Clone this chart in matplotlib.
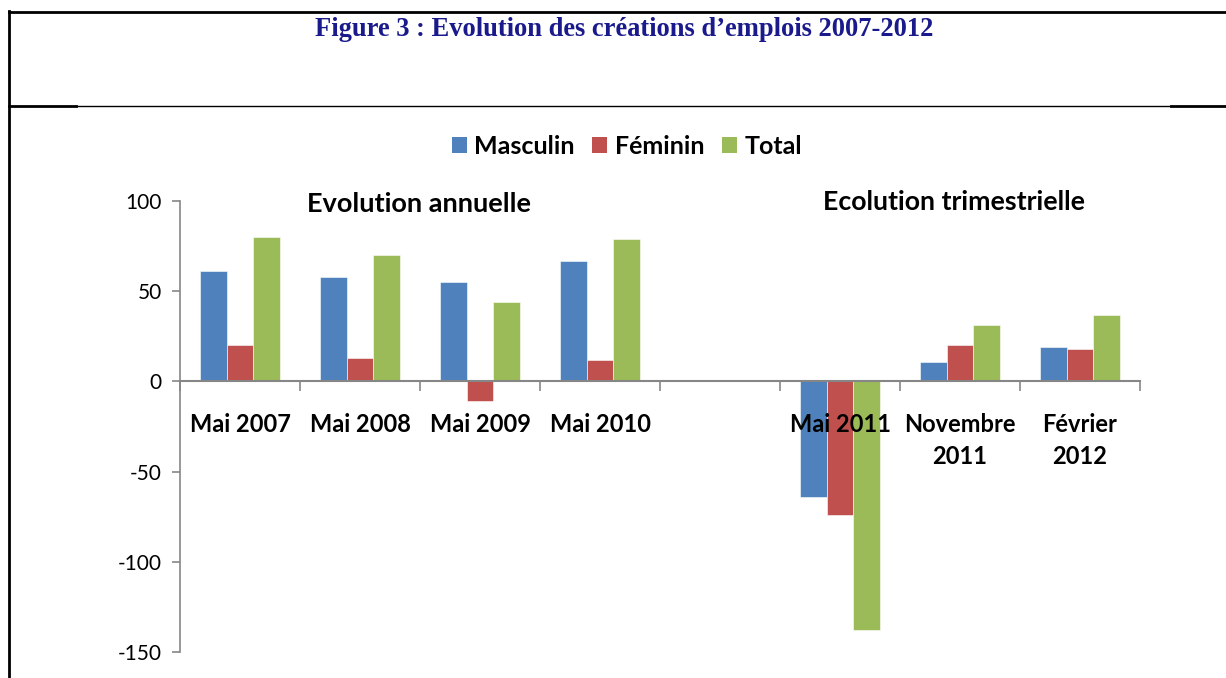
import matplotlib
matplotlib.use("Agg")
import matplotlib.pyplot as plt
from matplotlib.lines import Line2D
from matplotlib.patches import Patch
import numpy as np

categories = ["Mai 2007", "Mai 2008", "Mai 2009", "Mai 2010", "",
              "Mai 2011", "Novembre\n2011", "Février\n2012"]
masculin = [61, 58, 55, 67, np.nan, -64, 11, 19]
feminin = [20, 13, -11, 12, np.nan, -74, 20, 18]
total = [80, 70, 44, 79, np.nan, -138, 31, 37]
series_names = ["Masculin", "Féminin", "Total"]
colors = ["#4F81BD", "#C0504D", "#9BBB59"]
yticks = [100, 50, 0, -50, -100, -150]

W, H = 1226, 678
fig = plt.figure(figsize=(W / 100, H / 100), dpi=100)
ax = fig.add_axes([180 / W, 1 - 652 / H, (1140 - 180) / W, (652 - 201) / H])

x = np.arange(len(categories))
bw = 0.222
for i, (vals, c) in enumerate(zip([masculin, feminin, total], colors)):
    ax.bar(x + (i - 1) * bw, vals, width=bw, color=c, edgecolor="white",
           linewidth=0.4, zorder=2)

ax.set_xlim(-0.5, len(categories) - 0.5)
ax.set_ylim(-150, 100)
ax.set_yticks(yticks)
ax.set_yticklabels([str(v) for v in yticks], fontsize=15)
for t in ax.get_yticklabels():
    t.set_fontfamily(["Lato", "DejaVu Sans"])

axis_gray = "#868686"
for s in ["top", "right"]:
    ax.spines[s].set_visible(False)
ax.spines["left"].set_color(axis_gray)
ax.spines["bottom"].set_color(axis_gray)
ax.spines["left"].set_linewidth(1.2)
ax.spines["bottom"].set_linewidth(1.5)
ax.spines["bottom"].set_position(("data", 0))
ax.spines["bottom"].set_zorder(3)
ax.tick_params(axis="y", direction="out", length=6, color=axis_gray, width=1.2, pad=7)
ax.set_xticks(np.arange(-0.5, len(categories), 1.0))
ax.set_xticklabels([])
ax.tick_params(axis="x", direction="out", length=7, color=axis_gray, width=1.2)

for xi, lab in zip(x, categories):
    ax.text(xi, -17.5, lab, ha="center", va="top", fontsize=17, fontweight="bold",
            family=["Lato", "DejaVu Sans"], linespacing=1.5, zorder=5)

ax.text(1.49, 98.3, "Evolution annuelle", ha="center", va="center", fontsize=19.5,
        fontweight="bold", family=["Lato", "DejaVu Sans"])
ax.text(5.95, 99.4, "Ecolution trimestrielle", ha="center", va="center", fontsize=19.3,
        fontweight="bold", family=["Lato", "DejaVu Sans"])

handles = [Patch(facecolor=c, edgecolor="none") for c in colors]
leg = fig.legend(handles, series_names, loc="center", bbox_to_anchor=(627 / W, 1 - 146 / H),
                 ncol=3, frameon=False, handlelength=0.6, handleheight=0.6,
                 handletextpad=0.3, columnspacing=0.7,
                 prop={"family": ["Lato", "DejaVu Sans"], "weight": "bold", "size": 18})

fig.text(624 / W, 1 - 30 / H, "Figure 3 : Evolution des créations d’emplois 2007-2012",
         ha="center", va="center", fontsize=19.1, fontweight="bold",
         family=["Liberation Serif", "DejaVu Serif"], color="#1A1A8C")

# frame lines
def fl(x0, y0, x1, y1, lw):
    fig.add_artist(Line2D([x0 / W, x1 / W], [1 - y0 / H, 1 - y1 / H],
                          color="black", linewidth=lw, transform=fig.transFigure))

fl(9, 12, 1226, 12, 2.0)
fl(9, 11, 9, 678, 2.0)
fl(9, 106, 76, 106, 2.0)
fl(76, 106, 1171, 106, 1.0)
fl(1171, 106, 1226, 106, 2.0)

fig.savefig("out.png", dpi=100)
